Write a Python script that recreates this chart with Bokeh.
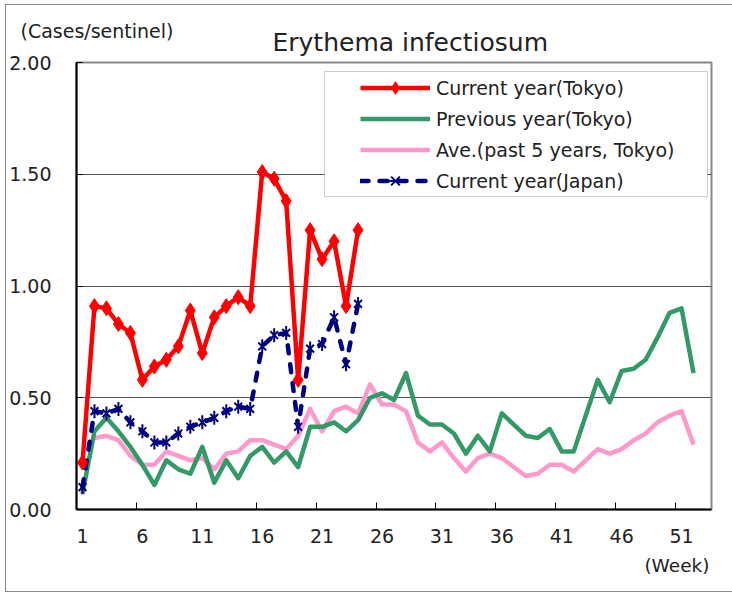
import math
from bokeh.plotting import figure
from bokeh.models import (FixedTicker, NumeralTickFormatter, Legend, LegendItem,
                          BoxAnnotation, Title, Range1d, LinearAxis)
from bokeh.embed import file_html
from bokeh.resources import INLINE

# ---------------- data ----------------
weeks = list(range(1, 54))
tick_weeks = [1, 6, 11, 16, 21, 26, 31, 36, 41, 46, 51]
y_ticks = [0.0, 0.5, 1.0, 1.5, 2.0]

current_tokyo = [0.21, 0.91, 0.90, 0.83, 0.79, 0.58, 0.64, 0.67, 0.73, 0.89,
                 0.70, 0.86, 0.91, 0.95, 0.91, 1.51, 1.48, 1.38, 0.58, 1.25,
                 1.12, 1.20, 0.91, 1.25]
current_japan = [0.10, 0.44, 0.43, 0.45, 0.39, 0.35, 0.30, 0.30, 0.34, 0.37,
                 0.39, 0.41, 0.44, 0.46, 0.45, 0.73, 0.78, 0.79, 0.37, 0.72,
                 0.74, 0.86, 0.65, 0.92]
previous_tokyo = [0.07, 0.35, 0.41, 0.35, 0.28, 0.20, 0.11, 0.22, 0.18, 0.16,
                  0.28, 0.12, 0.22, 0.14, 0.24, 0.28, 0.21, 0.26, 0.19, 0.37,
                  0.37, 0.39, 0.35, 0.40, 0.50, 0.52, 0.49, 0.61, 0.42, 0.38,
                  0.38, 0.34, 0.25, 0.33, 0.26, 0.43, 0.38, 0.33, 0.32, 0.36,
                  0.26, 0.26, 0.42, 0.58, 0.48, 0.62, 0.63, 0.67, 0.77, 0.88,
                  0.90, 0.61]
average_tokyo = [None, 0.32, 0.33, 0.31, 0.24, 0.20, 0.20, 0.26, 0.24, 0.22,
                 0.23, 0.18, 0.25, 0.26, 0.31, 0.31, 0.29, 0.27, 0.33, 0.45,
                 0.35, 0.44, 0.46, 0.43, 0.56, 0.47, 0.47, 0.44, 0.30, 0.26,
                 0.30, 0.23, 0.17, 0.23, 0.25, 0.23, 0.19, 0.15, 0.16, 0.20,
                 0.20, 0.17, 0.22, 0.27, 0.25, 0.27, 0.31, 0.34, 0.39, 0.42,
                 0.44, 0.29]

labels = ["Current year(Tokyo)", "Previous year(Tokyo)",
          "Ave.(past 5 years, Tokyo)", "Current year(Japan)"]
title_text = "Erythema infectiosum"
y_unit_text = "(Cases/sentinel)"
x_unit_text = "(Week)"

FONT = "DejaVu Sans"
TXT = "#222222"
RED = "#FF0000"
GREEN = "#339966"
PINK = "#FF99CC"
NAVY = "#000080"
EDGE = "#8a8a8a"
FRAME_W = 635          # plot-area width in px
UNIT_NOTE_X = 20.5     # px from plot-area left to the centre of the unit note

def nz(v):
    return float("nan") if v is None else v

# outer chart border drawn as CSS background lines of the host element
border_css = (f"linear-gradient({EDGE},{EDGE}) 5px 4px / 1px 588px no-repeat, "
              f"linear-gradient({EDGE},{EDGE}) 5px 4px / 740px 1px no-repeat, "
              f"linear-gradient({EDGE},{EDGE}) 5px 591px / 740px 1px no-repeat, #ffffff")

# ---------------- figure ----------------
p = figure(width=732, height=593, x_range=Range1d(0.5, 53.5), y_range=Range1d(0, 2),
           output_backend="svg", toolbar_location=None,
           title=None, title_location=None,
           min_border_left=76, min_border_right=21, min_border_top=62, min_border_bottom=84,
           background_fill_color="white", border_fill_alpha=0,
           styles={"background": border_css})
p.extra_x_ranges = {"px": Range1d(0, FRAME_W)}

p.outline_line_color = "#888888"
p.outline_line_width = 2

# main axes (grab them before adding the extra top axis)
xa = p.below[0]
ya = p.left[0]

# main title (nearest the plot area)
p.add_layout(Title(text=title_text, align="left", offset=196, standoff=8,
                   vertical_align="top", text_font=FONT, text_font_size="25px",
                   text_font_style="normal", text_color=TXT), "above")

# unit of the value axis, shown as the single label of a bare top axis
unit_axis = LinearAxis(x_range_name="px", ticker=FixedTicker(ticks=[UNIT_NOTE_X]),
                       major_label_overrides={UNIT_NOTE_X: y_unit_text},
                       axis_line_color=None, major_tick_line_color=None,
                       minor_tick_line_color=None, major_tick_in=0, major_tick_out=0,
                       minor_tick_in=0, minor_tick_out=0, major_label_standoff=-18,
                       major_label_text_font=FONT, major_label_text_font_size="19px",
                       major_label_text_color=TXT)
p.add_layout(unit_axis, "above")

# x axis (weeks)
xa.ticker = FixedTicker(ticks=tick_weeks,
                        minor_ticks=[w - 0.5 for w in tick_weeks[1:]])
xa.major_label_overrides = {w: str(w) for w in tick_weeks}
xa.major_tick_in = 0
xa.major_tick_out = 0
xa.minor_tick_in = 7
xa.minor_tick_out = 0
xa.minor_tick_line_color = "black"
xa.major_label_standoff = 19

# y axis (cases per sentinel)
ya.ticker = FixedTicker(ticks=y_ticks)
ya.formatter = NumeralTickFormatter(format="0.00")
ya.major_tick_in = 6
ya.major_tick_out = 0
ya.minor_tick_in = 0
ya.minor_tick_out = 0
ya.major_label_standoff = 25

for ax in (xa, ya):
    ax.axis_line_width = 2
    ax.axis_line_color = "black"
    ax.major_tick_line_color = "black"
    ax.major_label_text_font = FONT
    ax.major_label_text_font_size = "19px"
    ax.major_label_text_color = TXT

p.add_layout(Title(text=x_unit_text, align="right", offset=2, standoff=18,
                   vertical_align="top", text_font=FONT, text_font_size="18.5px",
                   text_font_style="normal", text_color=TXT), "below")

p.xgrid.visible = False
p.ygrid.ticker = FixedTicker(ticks=y_ticks)
p.ygrid.grid_line_color = "#555555"
p.ygrid.grid_line_width = 1

# ---------------- series ----------------
pink = p.line(weeks[:len(average_tokyo)], [nz(v) for v in average_tokyo],
              line_color=PINK, line_width=4.5, line_join="round")
green = p.line(weeks[:len(previous_tokyo)], previous_tokyo,
               line_color=GREEN, line_width=4.5, line_join="round")
jx = weeks[:len(current_japan)]
blue = p.line(jx, current_japan, line_color=NAVY, line_width=4.5,
              line_dash="8 11", line_cap="round")
blue_x = p.scatter(jx, current_japan, marker="x", size=11, line_color=NAVY, line_width=2)
blue_v = p.scatter(jx, current_japan, marker="dash", angle=math.pi / 2, size=14,
                   line_color=NAVY, line_width=2)
rx = weeks[:len(current_tokyo)]
red = p.line(rx, current_tokyo, line_color=RED, line_width=4.5, line_join="round")
red_m = p.scatter(rx, current_tokyo, marker="diamond", size=15,
                  fill_color=RED, line_color=RED, line_width=1)

# legend box + legend
p.add_layout(BoxAnnotation(left=248, right=631, top=438, bottom=313,
                           left_units="screen", right_units="screen",
                           top_units="screen", bottom_units="screen",
                           fill_color="white", fill_alpha=1,
                           line_color="#555555", line_width=1))
legend = Legend(items=[
    LegendItem(label=labels[0], renderers=[red, red_m]),
    LegendItem(label=labels[1], renderers=[green]),
    LegendItem(label=labels[2], renderers=[pink]),
    LegendItem(label=labels[3], renderers=[blue, blue_x, blue_v]),
], location=(284, 313), padding=0, spacing=0, margin=0,
    glyph_width=70, glyph_height=31, label_height=31, label_standoff=6,
    label_text_font=FONT, label_text_font_size="19px", label_text_color=TXT,
    border_line_alpha=0, background_fill_alpha=0)
p.add_layout(legend)

open("out.html", "w").write(file_html(p, INLINE))
